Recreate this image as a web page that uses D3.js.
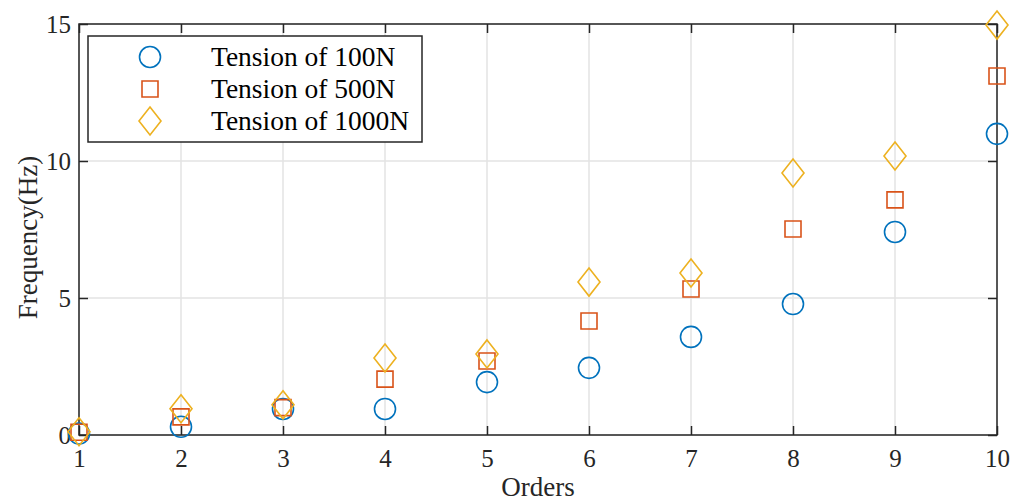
<!DOCTYPE html>
<html>
<head>
<meta charset="utf-8">
<script src="https://cdn.jsdelivr.net/npm/d3@7"></script>
<style>
  html, body { margin: 0; padding: 0; background: #fff; }
  svg { display: block; }
  svg text { font-family: "Liberation Serif", "Times New Roman", serif !important; }
</style>
</head>
<body>
<svg id="chart" width="1023" height="501"></svg>
<script>
// Natural frequencies of the first ten orders under three tensions
const orders = [1, 2, 3, 4, 5, 6, 7, 8, 9, 10];
const freq100N  = [0.05, 0.30, 0.95, 0.95, 1.93, 2.45, 3.58, 4.78, 7.41, 10.99];
const freq500N  = [0.10, 0.66, 1.00, 2.04, 2.70, 4.16, 5.33, 7.52, 8.58, 13.10];
const freq1000N = [0.12, 0.96, 1.10, 2.81, 2.96, 5.58, 5.91, 9.56, 10.18, 14.96];
const seriesNames = ["Tension of 100N", "Tension of 500N", "Tension of 1000N"];
const seriesColors = ["#0072BD", "#D95319", "#EDB120"];
const seriesShapes = ["circle", "square", "diamond"];
const xTicks = [1, 2, 3, 4, 5, 6, 7, 8, 9, 10];
const yTicks = [0, 5, 10, 15];

const svg = d3.select("#chart");
const m = { left: 79, top: 24, right: 997, bottom: 435 };

const x = d3.scaleLinear().domain([1, 10]).range([m.left, m.right]);
const y = d3.scaleLinear().domain([0, 15]).range([m.bottom, m.top]);

const axisColor = "#262626";
const gridColor = "#e3e3e3";

// grid
const grid = svg.append("g");
grid.selectAll("line.gx").data(xTicks).join("line")
  .attr("x1", d => x(d)).attr("x2", d => x(d))
  .attr("y1", m.top).attr("y2", m.bottom)
  .attr("stroke", gridColor).attr("stroke-width", 1.5);
grid.selectAll("line.gy").data(yTicks).join("line")
  .attr("x1", m.left).attr("x2", m.right)
  .attr("y1", d => y(d)).attr("y2", d => y(d))
  .attr("stroke", gridColor).attr("stroke-width", 1.5);

// axes with inward ticks on all four sides
const tickLen = 9;
function styleAxis(g) {
  g.attr("font-family", null);
  g.selectAll("path, line").attr("stroke", axisColor).attr("stroke-width", 1.5);
  g.select(".domain").remove();
}
const fontTick = 25;
svg.append("g").attr("transform", `translate(0,${m.bottom})`)
  .call(d3.axisBottom(x).tickValues(xTicks).tickSize(-tickLen).tickPadding(14).tickFormat(d3.format("d")))
  .call(styleAxis)
  .call(g => g.selectAll("text").attr("font-size", fontTick).attr("fill", axisColor));
svg.append("g").attr("transform", `translate(0,${m.top})`)
  .call(d3.axisTop(x).tickValues(xTicks).tickSize(-tickLen).tickFormat(""))
  .call(styleAxis);
svg.append("g").attr("transform", `translate(${m.left},0)`)
  .call(d3.axisLeft(y).tickValues(yTicks).tickSize(-tickLen).tickPadding(8).tickFormat(d3.format("d")))
  .call(styleAxis)
  .call(g => g.selectAll("text").attr("font-size", fontTick).attr("fill", axisColor));
svg.append("g").attr("transform", `translate(${m.right},0)`)
  .call(d3.axisRight(y).tickValues(yTicks).tickSize(-tickLen).tickFormat(""))
  .call(styleAxis);

// box
svg.append("rect")
  .attr("x", m.left).attr("y", m.top)
  .attr("width", m.right - m.left).attr("height", m.bottom - m.top)
  .attr("fill", "none").attr("stroke", axisColor).attr("stroke-width", 1.5);

// axis titles
svg.append("text")
  .attr("x", (m.left + m.right) / 2).attr("y", 496)
  .attr("text-anchor", "middle").attr("font-size", 27).attr("fill", axisColor)
  .text("Orders");
svg.append("text")
  .attr("transform", `translate(37,${(m.top + m.bottom) / 2 + 8}) rotate(-90)`)
  .attr("text-anchor", "middle").attr("font-size", 27).attr("fill", axisColor)
  .text("Frequency(Hz)");

// marker shapes
function markerPath(shape) {
  if (shape === "circle") return d3.symbol(d3.symbolCircle, Math.PI * 10.5 * 10.5)();
  if (shape === "square") return "M-8,-8H8V8H-8Z";
  return "M0,-14L11,0L0,14L-11,0Z";
}

const allSeries = [freq100N, freq500N, freq1000N];
allSeries.forEach((vals, i) => {
  svg.append("g").selectAll("path").data(orders.map((o, k) => [o, vals[k]])).join("path")
    .attr("transform", d => `translate(${x(d[0])},${y(d[1])})`)
    .attr("d", markerPath(seriesShapes[i]))
    .attr("fill", "none")
    .attr("stroke", seriesColors[i])
    .attr("stroke-width", 1.6);
});

// legend
const lg = svg.append("g");
lg.append("rect")
  .attr("x", 88).attr("y", 36).attr("width", 334).attr("height", 106)
  .attr("fill", "#fff").attr("stroke", axisColor).attr("stroke-width", 1.5);
seriesNames.forEach((name, i) => {
  const cy = 57 + i * 32;
  lg.append("path")
    .attr("transform", `translate(150,${cy})`)
    .attr("d", markerPath(seriesShapes[i]))
    .attr("fill", "none").attr("stroke", seriesColors[i]).attr("stroke-width", 1.6);
  lg.append("text")
    .attr("x", 211).attr("y", cy + 9)
    .attr("font-size", 27.5).attr("fill", "#000")
    .text(name);
});
</script>
</body>
</html>
